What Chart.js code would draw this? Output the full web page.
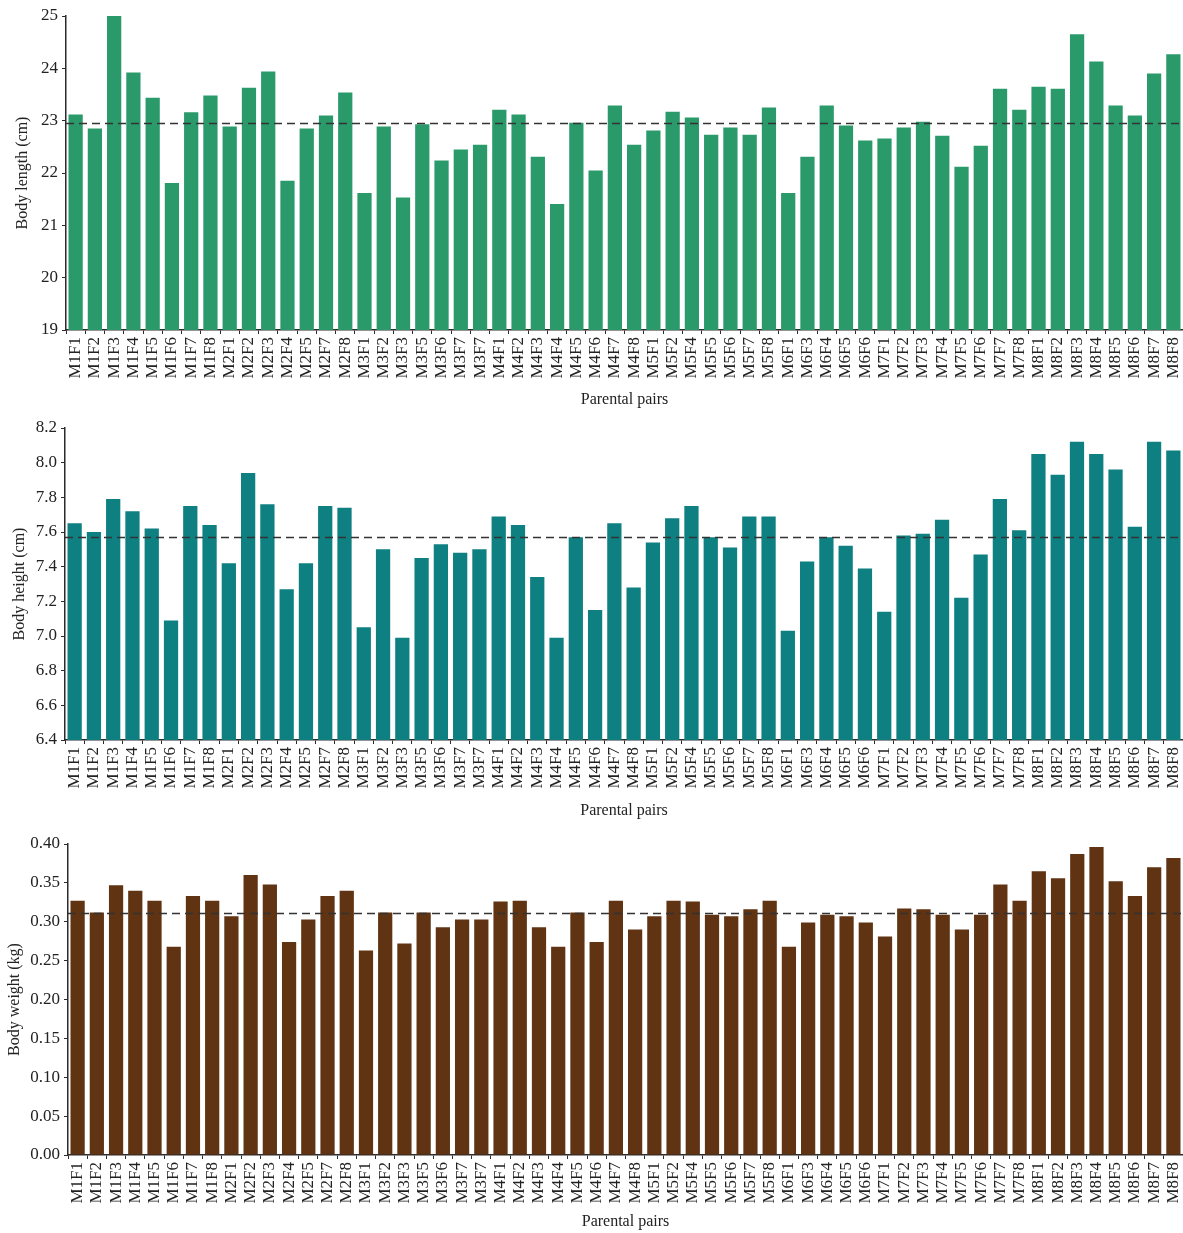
<!DOCTYPE html>
<html>
<head>
<meta charset="utf-8">
<script src="https://cdn.jsdelivr.net/npm/chart.js@4.4.1/dist/chart.umd.min.js"></script>
<style>
  html, body { margin: 0; padding: 0; background: #fff; }
  canvas { display: block; }
</style>
</head>
<body>
<canvas id="chart_length" width="1183" height="411"></canvas>
<canvas id="chart_height" width="1183" height="411"></canvas>
<canvas id="chart_weight" width="1183" height="411"></canvas>
<script>
const categories = [
  "M1F1", "M1F2", "M1F3", "M1F4", "M1F5", "M1F6", "M1F7", "M1F8",
  "M2F1", "M2F2", "M2F3", "M2F4", "M2F5", "M2F7", "M2F8",
  "M3F1", "M3F2", "M3F3", "M3F5", "M3F6", "M3F7", "M3F7",
  "M4F1", "M4F2", "M4F3", "M4F4", "M4F5", "M4F6", "M4F7", "M4F8",
  "M5F1", "M5F2", "M5F4", "M5F5", "M5F6", "M5F7", "M5F8",
  "M6F1", "M6F3", "M6F4", "M6F5", "M6F6",
  "M7F1", "M7F2", "M7F3", "M7F4", "M7F5", "M7F6", "M7F7", "M7F8",
  "M8F1", "M8F2", "M8F3", "M8F4", "M8F5", "M8F6", "M8F7", "M8F8",
];

const bodyLength = [
  23.12, 22.85, 25.0, 23.92, 23.44, 21.81, 23.16, 23.48,
  22.89, 23.63, 23.94, 21.85, 22.85, 23.1, 23.54,
  21.62, 22.89, 21.53, 22.93, 22.24, 22.45, 22.54,
  23.21, 23.12, 22.31, 21.41, 22.96, 22.05, 23.29, 22.54,
  22.81, 23.17, 23.06, 22.73, 22.87, 22.73, 23.25,
  21.62, 22.31, 23.29, 22.91, 22.62,
  22.66, 22.87, 22.98, 22.71, 22.12, 22.52, 23.61, 23.21,
  23.65, 23.61, 24.65, 24.13, 23.29, 23.1, 23.9, 24.27,
];

const bodyHeight = [
  7.65, 7.6, 7.79, 7.72, 7.62, 7.09, 7.75, 7.64,
  7.42, 7.94, 7.76, 7.27, 7.42, 7.75, 7.74,
  7.05, 7.5, 6.99, 7.45, 7.53, 7.48, 7.5,
  7.69, 7.64, 7.34, 6.99, 7.57, 7.15, 7.65, 7.28,
  7.54, 7.68, 7.75, 7.57, 7.51, 7.69, 7.69,
  7.03, 7.43, 7.57, 7.52, 7.39,
  7.14, 7.58, 7.59, 7.67, 7.22, 7.47, 7.79, 7.61,
  8.05, 7.93, 8.12, 8.05, 7.96, 7.63, 8.12, 8.07,
];

const bodyWeight = [
  0.327, 0.312, 0.347, 0.34, 0.327, 0.268, 0.333, 0.327,
  0.307, 0.36, 0.348, 0.274, 0.303, 0.333, 0.34,
  0.263, 0.312, 0.272, 0.312, 0.293, 0.303, 0.303,
  0.326, 0.327, 0.293, 0.268, 0.312, 0.274, 0.327, 0.29,
  0.307, 0.327, 0.326, 0.309, 0.307, 0.316, 0.327,
  0.268, 0.299, 0.309, 0.307, 0.299,
  0.281, 0.317, 0.316, 0.309, 0.29, 0.309, 0.348, 0.327,
  0.365, 0.356, 0.387, 0.396, 0.352, 0.333, 0.37, 0.382,
];

const meanLength = 22.95;
const meanHeight = 7.573;
const meanWeight = 0.3115;

const serif = "'Liberation Serif', 'DejaVu Serif', serif";
const inkColor = "#2b2b2b";

// dashed mean line across the whole plot area
const meanLinePlugin = {
  id: "meanLine",
  afterDatasetsDraw(chart, args, opts) {
    const { ctx, chartArea, scales } = chart;
    const y = Math.round(scales.y.getPixelForValue(opts.value)) + 0.5;
    ctx.save();
    ctx.strokeStyle = "#333";
    ctx.lineWidth = 1.4;
    ctx.setLineDash([8, 5]);
    ctx.beginPath();
    ctx.moveTo(chartArea.left, y);
    ctx.lineTo(chartArea.right, y);
    ctx.stroke();
    ctx.restore();
  },
};

function makeChart(id, values, color, yTitle, setup) {
  return new Chart(document.getElementById(id), {
    type: "bar",
    data: {
      labels: categories,
      datasets: [
        {
          data: values,
          backgroundColor: color,
          borderWidth: 0,
          barPercentage: 0.74,
          categoryPercentage: 1.0,
        },
      ],
    },
    plugins: [meanLinePlugin],
    options: {
      responsive: false,
      animation: false,
      layout: { padding: { top: setup.top, right: 0, bottom: 0, left: 0 } },
      plugins: {
        legend: { display: false },
        tooltip: { enabled: false },
        meanLine: { value: setup.mean },
      },
      scales: {
        x: {
          grid: {
            display: true,
            drawOnChartArea: false,
            drawTicks: true,
            tickLength: 4,
            color: inkColor,
            lineWidth: 1,
          },
          border: { display: true, color: inkColor, width: 1.5 },
          ticks: {
            autoSkip: false,
            minRotation: 90,
            maxRotation: 90,
            padding: 3,
            color: "#222",
            font: { family: serif, size: 17 },
          },
          title: {
            display: true,
            text: "Parental pairs",
            color: "#222",
            font: { family: serif, size: 16 },
            padding: { top: 0, bottom: 2 },
          },
          afterFit(scale) {
            scale.height = setup.xHeight;
            scale.paddingLeft = 0;
            scale.paddingRight = 0;
          },
        },
        y: {
          min: setup.min,
          max: setup.max,
          grid: {
            display: true,
            drawOnChartArea: false,
            drawTicks: true,
            tickLength: 4,
            color: inkColor,
          },
          border: { display: true, color: inkColor, width: 1.5 },
          ticks: {
            stepSize: setup.step,
            padding: 4,
            color: "#222",
            font: { family: serif, size: 17 },
            callback: (v) => Number(v).toFixed(setup.decimals),
          },
          title: {
            display: true,
            text: yTitle,
            color: "#222",
            font: { family: serif, size: 16 },
            padding: { top: setup.titlePad, bottom: 0 },
          },
          afterFit(scale) {
            scale.width = setup.yWidth;
          },
        },
      },
    },
  });
}

makeChart("chart_length", bodyLength, "#2b9a6b", "Body length (cm)", {
  min: 19, max: 25, step: 1, decimals: 0, mean: meanLength,
  top: 16, xHeight: 81, yWidth: 66, titlePad: 13,
});

makeChart("chart_height", bodyHeight, "#0e8081", "Body height (cm)", {
  min: 6.4, max: 8.2, step: 0.2, decimals: 1, mean: meanHeight,
  top: 17, xHeight: 82, yWidth: 65, titlePad: 10,
});

makeChart("chart_weight", bodyWeight, "#603312", "Body weight (kg)", {
  min: 0, max: 0.4, step: 0.05, decimals: 2, mean: meanWeight,
  top: 22, xHeight: 78, yWidth: 68, titlePad: 5,
});
</script>
</body>
</html>
